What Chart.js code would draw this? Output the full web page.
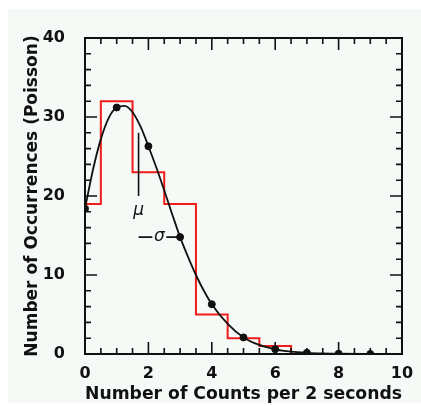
<!DOCTYPE html>
<html>
<head>
<meta charset="utf-8">
<script src="https://cdn.jsdelivr.net/npm/chart.js@4.4.1/dist/chart.umd.min.js"></script>
<style>
  html, body { margin: 0; padding: 0; background: #ffffff; }
  canvas { display: block; }
</style>
</head>
<body>
<canvas id="myChart" width="421" height="406"></canvas>
<script>
// histogram (bins centred on each count)
const histX = [0, 1, 2, 3, 4, 5, 6, 7, 10];
const histY = [19, 32, 23, 19, 5, 2, 1, 0, 0];

// black dots (expected counts)
const pointX = [0, 1, 2, 3, 4, 5, 6, 7, 8, 9];
const pointY = [18.4, 31.2, 26.3, 14.8, 6.3, 2.1, 0.6, 0.15, 0.03, 0.005];

// smooth curve
const curveX = [0, 0.25, 0.5, 0.75, 1, 1.25, 1.5, 1.75, 2, 2.25, 2.5, 2.75, 3, 3.25, 3.5, 3.75, 4, 4.5, 5, 5.5, 6, 6.5, 7, 7.5, 8, 9, 10];
const curveY = [18.4, 23.3, 27.2, 29.9, 31.2, 31.4, 30.6, 28.8, 26.3, 23.6, 20.7, 17.7, 14.8, 12.3, 10.0, 8.0, 6.3, 3.8, 2.1, 1.15, 0.6, 0.3, 0.15, 0.07, 0.03, 0.01, 0];

const xTickLabels = ['0', '2', '4', '6', '8', '10'];
const yTickLabels = ['0', '10', '20', '30', '40'];

const mu = 1.69;
const sigma = 1.31;
const muLine = [20, 28];     // y range of the mu marker
const muLabelY = 18.1;
const sigmaY = 14.8;

const bgColor = '#f6faf7';
const fontFam = '"DejaVu Sans", sans-serif';

const pairs = (xs, ys) => xs.map((x, i) => ({ x: x, y: ys[i] }));

// pale panel behind everything
const background = {
    id: 'background',
    beforeDraw(chart) {
        const ctx = chart.ctx;
        ctx.save();
        ctx.fillStyle = bgColor;
        ctx.fillRect(8, 9, chart.width - 8, chart.height - 12);
        ctx.restore();
    }
};

// frame with inward ticks on all four sides, plus mu / sigma marks
const frame = {
    id: 'frame',
    afterDraw(chart) {
        const ctx = chart.ctx;
        const a = chart.chartArea;
        const xs = chart.scales.x, ys = chart.scales.y;
        ctx.save();
        ctx.strokeStyle = '#111';
        ctx.lineWidth = 2;
        ctx.strokeRect(a.left, a.top, a.right - a.left, a.bottom - a.top);

        ctx.lineWidth = 1.6;
        ctx.beginPath();
        for (let v = 0.5; v < 10; v += 0.5) {
            const len = (v % 2 === 0) ? 12 : 6;
            const px = xs.getPixelForValue(v);
            ctx.moveTo(px, a.bottom); ctx.lineTo(px, a.bottom - len);
            ctx.moveTo(px, a.top); ctx.lineTo(px, a.top + len);
        }
        for (let v = 2; v < 40; v += 2) {
            const len = (v % 10 === 0) ? 12 : 6;
            const py = ys.getPixelForValue(v);
            ctx.moveTo(a.left, py); ctx.lineTo(a.left + len, py);
            ctx.moveTo(a.right, py); ctx.lineTo(a.right - len, py);
        }
        ctx.stroke();

        // mu marker
        const mx = xs.getPixelForValue(mu);
        ctx.lineWidth = 1.6;
        ctx.beginPath();
        ctx.moveTo(mx, ys.getPixelForValue(muLine[0]));
        ctx.lineTo(mx, ys.getPixelForValue(muLine[1]));
        ctx.stroke();
        ctx.fillStyle = '#111';
        ctx.textAlign = 'center';
        ctx.textBaseline = 'middle';
        ctx.font = 'italic 17px ' + fontFam;
        ctx.fillText('\u03bc', mx, ys.getPixelForValue(muLabelY));

        // sigma marker
        const sy = ys.getPixelForValue(sigmaY);
        const sx0 = xs.getPixelForValue(mu), sx1 = xs.getPixelForValue(mu + sigma);
        const sc = (sx0 + sx1) / 2;
        ctx.beginPath();
        ctx.moveTo(sx0, sy); ctx.lineTo(sc - 7, sy);
        ctx.moveTo(sc + 7, sy); ctx.lineTo(sx1, sy);
        ctx.stroke();
        ctx.fillText('\u03c3', sc, sy - 1);
        ctx.restore();
    }
};

const config = {
    type: 'scatter',
    data: {
        datasets: [
            {
                label: 'points',
                data: pairs(pointX, pointY),
                showLine: false,
                backgroundColor: '#111',
                borderColor: '#111',
                pointRadius: 3.5,
                order: 0
            },
            {
                label: 'curve',
                type: 'line',
                data: pairs(curveX, curveY),
                borderColor: '#111',
                borderWidth: 1.8,
                pointRadius: 0,
                cubicInterpolationMode: 'monotone',
                fill: false,
                order: 1
            },
            {
                label: 'histogram',
                type: 'line',
                data: pairs(histX, histY),
                stepped: 'middle',
                borderColor: 'rgb(240, 28, 28)',
                borderWidth: 2,
                pointRadius: 0,
                fill: false,
                order: 2
            }
        ]
    },
    options: {
        responsive: false,
        animation: false,
        layout: { padding: { left: 8, top: 38, right: 19, bottom: 0 } },
        plugins: {
            legend: { display: false },
            tooltip: { enabled: false }
        },
        scales: {
            x: {
                type: 'linear',
                min: 0,
                max: 10,
                afterFit: scale => { scale.height = 52; },
                grid: { display: false },
                border: { display: false },
                ticks: {
                    stepSize: 2,
                    padding: 2,
                    color: '#111',
                    font: { family: fontFam, size: 16, weight: 'bold' },
                    callback: (v) => xTickLabels[v / 2]
                },
                title: {
                    display: true,
                    text: 'Number of Counts per 2 seconds',
                    color: '#111',
                    font: { family: fontFam, size: 18, weight: 'bold' },
                    padding: { top: 0, bottom: 1 }
                }
            },
            y: {
                min: 0,
                max: 40,
                afterFit: scale => { scale.width = 77; },
                grid: { display: false },
                border: { display: false },
                ticks: {
                    stepSize: 10,
                    padding: 12,
                    color: '#111',
                    font: { family: fontFam, size: 16, weight: 'bold' },
                    callback: (v) => yTickLabels[v / 10]
                },
                title: {
                    display: true,
                    text: 'Number of Occurrences (Poisson)',
                    color: '#111',
                    font: { family: fontFam, size: 17, weight: 'bold' },
                    padding: { top: 14, bottom: 0 }
                }
            }
        }
    },
    plugins: [background, frame]
};

const myChart = new Chart(document.getElementById('myChart'), config);
</script>
</body>
</html>
